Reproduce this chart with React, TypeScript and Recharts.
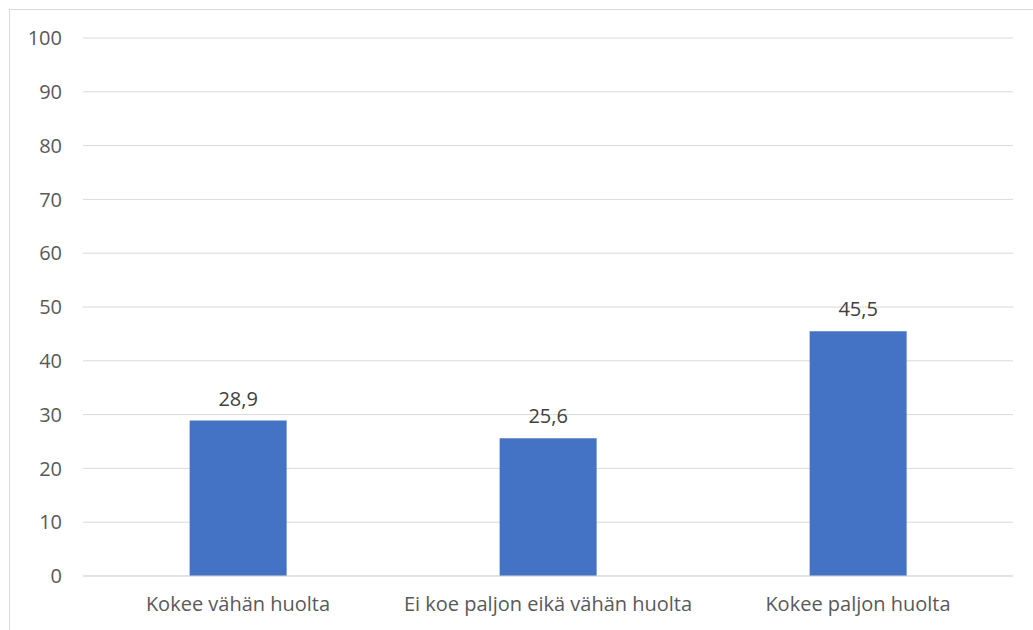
import React from "react";
import { BarChart, Bar, XAxis, YAxis, CartesianGrid, LabelList } from "recharts";

const categories = ["Kokee vähän huolta", "Ei koe paljon eikä vähän huolta", "Kokee paljon huolta"];
const values = [28.9, 25.6, 45.5];
const yTicks = [0, 10, 20, 30, 40, 50, 60, 70, 80, 90, 100];

const data = categories.map((name, i) => ({ name, value: values[i] }));

const FONT = "'Open Sans', sans-serif";
const TEXT = "#595959";

export default function App() {
  return (
    <div
      style={{
        position: "absolute",
        left: 9,
        top: 9,
        width: 1040,
        height: 640,
        border: "1px solid #d9d9d9",
        background: "#fff",
        fontFamily: FONT,
      }}
    >
      <BarChart
        width={1040}
        height={640}
        data={data}
        margin={{ top: 28, right: 37, left: 0, bottom: 34 }}
        barCategoryGap="34.4%"
      >
        <CartesianGrid vertical={false} stroke="#d9d9d9" strokeWidth={1} />
        <YAxis
          domain={[0, 100]}
          ticks={yTicks}
          width={73}
          axisLine={false}
          tickLine={false}
          tickSize={0}
          tickMargin={21}
          tick={{ fill: TEXT, fontSize: 20, fontFamily: FONT }}
          interval={0}
        />
        <XAxis
          dataKey="name"
          height={40}
          axisLine={{ stroke: "#d9d9d9" }}
          tickLine={false}
          tickSize={0}
          tickMargin={21}
          tick={{ fill: TEXT, fontSize: 20, fontFamily: FONT }}
          interval={0}
        />
        <Bar dataKey="value" fill="#4472C4" isAnimationActive={false}>
          <LabelList
            dataKey="value"
            position="top"
            offset={15}
            formatter={(v: any) => String(v).replace(".", ",")}
            style={{ fill: "#404040", fontSize: 20, fontFamily: FONT }}
          />
        </Bar>
      </BarChart>
    </div>
  );
}
